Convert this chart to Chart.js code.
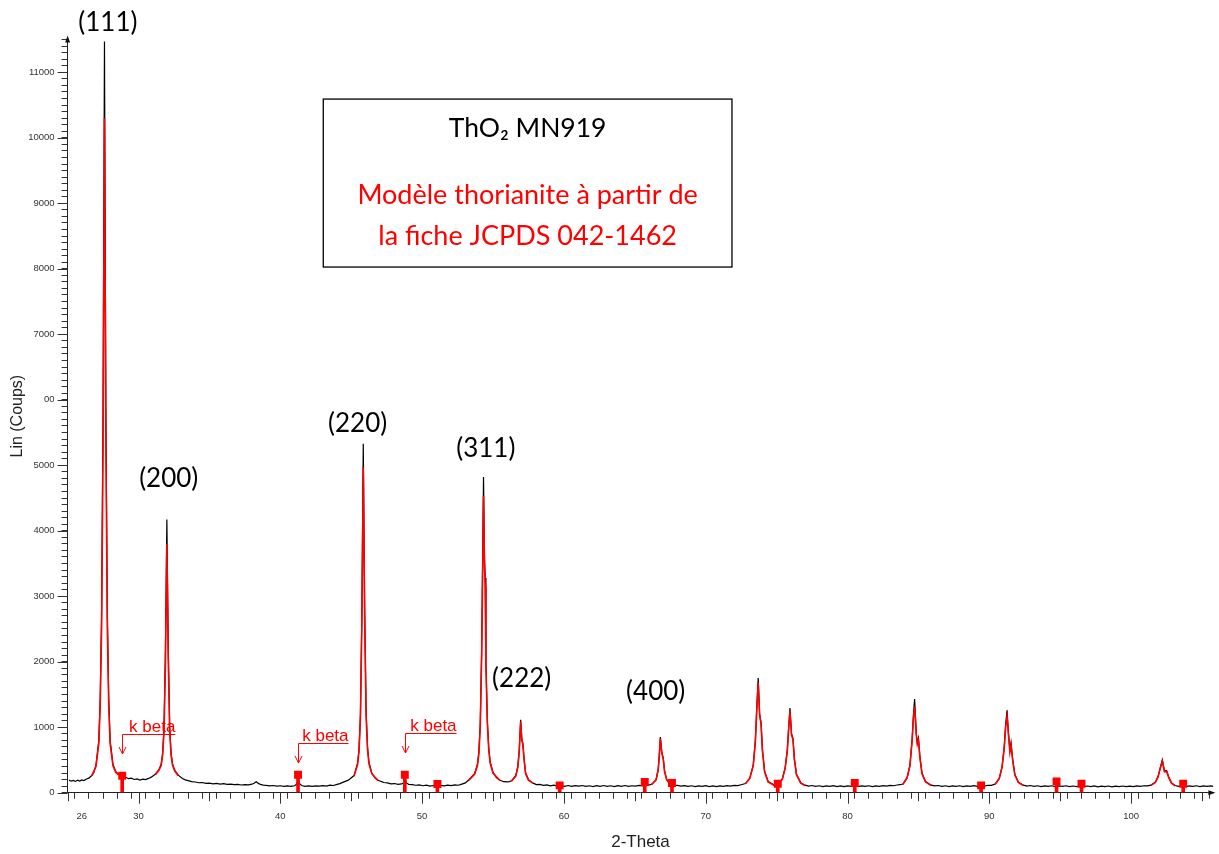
<!DOCTYPE html>
<html><head><meta charset="utf-8">
<script src="https://cdn.jsdelivr.net/npm/chart.js@4"></script>
<style>html,body{margin:0;padding:0;background:#fff;}canvas{display:block;}</style>
</head><body>
<canvas id="c" width="1219" height="854"></canvas>
<script>
// Observed XRD pattern (2-Theta, counts)
const observed = [
[25.1,192],[25.25,176],[25.4,188],[25.55,172],[25.7,190],[25.85,178],[26.0,194],[26.15,186],[26.3,206],[26.5,222],[26.7,262],[26.85,310],[27.0,420],[27.2,800],[27.3,1450],[27.4,2800],[27.5,5840],[27.6,11470],[27.7,5840],[27.8,2800],[27.9,1450],[28.0,800],[28.2,430],[28.4,320],[28.6,280],[28.75,258],[28.85,266],[28.95,245],
[29.1,236],[29.3,214],[29.5,222],[29.7,202],[29.9,210],[30.1,194],[30.3,206],[30.5,200],[30.7,218],[30.9,238],[31.2,285],[31.45,355],[31.6,440],[31.7,600],[31.8,1000],[31.9,2190],[32.0,4170],[32.1,2190],[32.2,1000],[32.3,600],[32.4,440],[32.55,345],[32.8,268],
[33.1,218],[33.3,196],[33.5,184],[33.75,170],[34.0,163],[34.25,152],[34.5,156],[34.75,143],[35.0,146],[35.25,136],[35.5,141],[35.75,131],[36.0,137],[36.25,126],[36.5,131],[36.75,122],[37.0,128],[37.25,118],[37.5,124],[37.75,119],[38.0,130],[38.15,145],[38.3,168],[38.45,142],[38.6,126],[38.8,116],[39.0,112],[39.25,104],[39.5,110],[39.75,100],[40.0,106],[40.25,97],[40.5,103],[40.75,96],[41.0,106],[41.15,130],[41.25,205],[41.35,140],[41.5,110],[41.75,98],[42.0,104],[42.25,96],[42.5,105],[42.75,99],[43.0,108],[43.25,102],[43.5,115],[43.75,110],[44.0,128],[44.2,138],[44.4,158],
[44.8,192],[45.2,262],[45.45,450],[45.55,670],[45.65,1190],[45.75,2740],[45.85,5330],[45.95,2800],[46.05,1250],[46.15,700],[46.25,470],[46.45,300],[46.7,220],[46.9,190],
[47.1,172],[47.3,156],[47.55,150],[47.8,136],[48.05,140],[48.3,126],[48.55,134],[48.7,150],[48.8,212],[48.9,150],[49.05,128],[49.3,124],[49.55,114],[49.8,118],[50.05,106],[50.3,114],[50.55,102],[50.8,110],[51.05,100],[51.3,112],[51.55,104],[51.8,116],[52.05,108],[52.3,120],[52.55,114],[52.8,132],[53.05,150],
[53.3,198],[53.7,290],[53.9,430],[54.0,620],[54.1,1050],[54.2,2200],[54.33,4820],[54.4,3600],[54.45,3280],[54.5,2000],[54.6,1100],[54.7,680],[54.8,470],[55.0,310],[55.25,228],[55.5,190],[55.75,168],[56.0,166],[56.15,170],
[56.3,182],[56.6,260],[56.75,400],[56.85,650],[56.95,1115],[57.03,820],[57.1,760],[57.2,500],[57.3,300],[57.5,200],[57.8,150],
[58.05,124],[58.3,128],[58.55,112],[58.8,118],[59.05,104],[59.3,114],[59.55,100],[59.8,112],[60.05,98],[60.3,110],[60.55,96],[60.8,108],[61.05,100],[61.3,110],[61.55,96],[61.8,106],[62.05,94],[62.3,108],[62.55,98],[62.8,110],[63.05,96],[63.3,106],[63.55,94],[63.8,108],[64.05,98],[64.3,110],[64.55,96],[64.8,106],[65.05,100],[65.3,112],[65.55,104],[65.8,118],[66.05,118],
[66.2,132],[66.5,200],[66.65,360],[66.72,560],[66.8,850],[66.9,620],[67.0,535],[67.1,330],[67.25,200],[67.5,130],
[67.75,112],[68.0,112],[68.25,100],[68.5,108],[68.75,96],[69.0,106],[69.25,94],[69.5,104],[69.75,96],[70.0,108],[70.25,94],[70.5,104],[70.75,92],[71.0,104],[71.25,96],[71.5,108],[71.75,100],[72.0,112],[72.25,108],[72.5,122],
[72.8,140],[73.1,220],[73.35,420],[73.5,800],[73.6,1300],[73.7,1750],[73.8,1200],[73.9,1073],[74.0,650],[74.15,330],[74.4,170],[74.8,120],[75.1,130],[75.4,210],[75.6,380],[75.75,650],[75.85,1000],[75.94,1293],[76.05,900],[76.15,835],[76.25,520],[76.4,280],[76.7,150],[77.0,115],
[77.25,102],[77.5,110],[77.75,96],[78.0,106],[78.25,94],[78.5,104],[78.75,96],[79.0,108],[79.25,94],[79.5,104],[79.75,92],[80.0,104],[80.25,96],[80.5,108],[80.75,94],[81.0,104],[81.25,96],[81.5,106],[81.75,94],[82.0,104],[82.25,98],[82.5,108],[82.75,100],[83.0,112],[83.25,106],[83.5,118],[83.7,122],
[83.9,132],[84.2,230],[84.4,420],[84.55,800],[84.65,1200],[84.73,1430],[84.85,900],[84.92,760],[85.0,835],[85.1,560],[85.25,300],[85.5,170],[85.9,115],
[86.15,104],[86.4,110],[86.65,96],[86.9,106],[87.15,94],[87.4,104],[87.65,96],[87.9,106],[88.15,92],[88.4,104],[88.65,96],[88.9,108],[89.15,98],[89.4,108],[89.65,102],[89.9,114],[90.15,112],
[90.4,132],[90.7,220],[90.9,400],[91.05,700],[91.15,1050],[91.25,1257],[91.35,900],[91.45,650],[91.53,768],[91.65,500],[91.8,280],[92.05,160],[92.4,115],
[92.65,102],[92.9,110],[93.15,96],[93.4,106],[93.65,94],[93.9,104],[94.15,96],[94.4,106],[94.65,92],[94.9,104],[95.15,96],[95.4,106],[95.65,92],[95.9,102],[96.15,94],[96.4,104],[96.65,92],[96.9,102],[97.15,94],[97.4,104],[97.65,90],[97.9,100],[98.15,92],[98.4,102],[98.65,90],[98.9,100],[99.15,92],[99.4,102],[99.65,92],[99.9,100],[100.15,94],[100.4,104],[100.65,96],[100.9,106],[101.15,104],
[101.4,116],[101.7,160],[101.9,250],[102.05,380],[102.2,504],[102.35,330],[102.5,340],[102.65,240],[102.85,150],[103.1,110],
[103.35,98],[103.6,106],[103.85,94],[104.1,104],[104.35,96],[104.6,106],[104.85,94],[105.1,104],[105.35,96],[105.6,104],[105.8,98]
];

// Thorianite model profile (red); null = gap between peaks
const calculated = [
[26.7,258],[27.0,400],[27.2,750],[27.3,1330],[27.4,2550],[27.5,5300],[27.6,10300],[27.7,5300],[27.8,2550],[27.9,1330],[28.0,750],[28.2,410],[28.4,310],[28.6,272],
[29.5,null],
[31.2,280],[31.45,345],[31.6,420],[31.7,570],[31.8,930],[31.9,2000],[32.0,3800],[32.1,2000],[32.2,930],[32.3,570],[32.4,420],[32.55,335],[32.8,260],
[40.0,null],
[45.2,255],[45.45,430],[45.55,630],[45.65,1120],[45.75,2560],[45.85,4970],[45.95,2620],[46.05,1170],[46.15,660],[46.25,445],[46.45,290],[46.9,185],
[50.0,null],
[53.3,192],[53.7,280],[53.9,410],[54.0,590],[54.1,1000],[54.2,2100],[54.33,4530],[54.4,3450],[54.45,3150],[54.5,1950],[54.6,1060],[54.7,650],[54.8,450],[55.0,300],[55.5,182],
[56.0,null],
[56.3,175],[56.6,250],[56.75,390],[56.85,630],[56.95,1090],[57.03,800],[57.1,740],[57.2,480],[57.3,290],[57.5,192],[57.8,145],
[62.0,null],
[66.2,126],[66.5,195],[66.65,350],[66.72,545],[66.8,830],[66.9,600],[67.0,520],[67.1,320],[67.25,195],[67.5,125],
[70.0,null],
[72.8,136],[73.1,215],[73.35,410],[73.5,780],[73.6,1260],[73.7,1680],[73.8,1180],[73.9,1050],[74.0,640],[74.15,320],[74.4,165],[74.8,115],[75.1,126],[75.4,205],[75.6,370],[75.75,630],[75.85,970],[75.94,1250],[76.05,880],[76.15,815],[76.25,510],[76.4,275],[76.7,145],[77.0,110],
[80.0,null],
[83.9,126],[84.2,225],[84.4,410],[84.55,780],[84.65,1150],[84.73,1320],[84.85,880],[84.92,740],[85.0,800],[85.1,540],[85.25,290],[85.5,165],[85.9,110],
[88.0,null],
[90.4,126],[90.7,215],[90.9,390],[91.05,680],[91.15,1000],[91.25,1165],[91.35,880],[91.45,620],[91.53,720],[91.65,480],[91.8,270],[92.05,155],[92.4,110],
[98.0,null],
[101.4,112],[101.7,155],[101.9,240],[102.05,370],[102.2,480],[102.35,320],[102.5,325],[102.65,230],[102.85,145],[103.1,105]
];

// Reference stick markers
const stickTheta  = [28.85, 41.25, 48.78, 51.08, 59.7, 65.7, 67.62, 75.08, 80.51, 89.42, 94.74, 96.5, 103.67];
const stickCounts = [260, 275, 275, 133, 112, 163, 148, 137, 148, 112, 173, 137, 137];

// Tick labels
const xTickLabelValues = [26, 30, 40, 50, 60, 70, 80, 90, 100];
const yTickLabels = ['0','1000','2000','3000','4000','5000','00','7000','8000','9000','10000','11000'];

// Peak labels (text, 2-Theta, counts of baseline)
const peakLabels = ['(111)','(200)','(220)','(311)','(222)','(400)'];
const peakLabelTheta = [27.84, 32.13, 45.45, 54.49, 57.02, 66.47];
const peakLabelCounts = [11631, 4672, 5512, 5130, 1619, 1415];

// k beta annotations
const kBetaTheta = [28.85, 41.25, 48.78];
const kBetaEndTheta = [32.60, 44.81, 52.43];
const kBetaLineCounts = [901, 764, 916];
const kBetaTipCounts = [591, 453, 606];

// Legend box (2-Theta range, counts range)
const boxTheta = [43.03, 71.85];
const boxCounts = [10592, 8027];
const boxTitle = 'ThO₂ MN919';
const boxLines = ['Modèle thorianite à partir de', 'la fiche JCPDS 042-1462'];

const ARIAL = '"Liberation Sans", Arial, sans-serif';
const CAL = 'Lato, "Open Sans", sans-serif';

const decor = {
  id: 'decor',
  afterDraw(chart) {
    const {ctx, chartArea: ca, scales: {x, y}} = chart;
    ctx.save();
    // longer major ticks
    ctx.strokeStyle = '#333'; ctx.lineWidth = 1;
    x.ticks.forEach(t => {
      if (t.value % 5 !== 0) return;
      const len = t.value % 10 === 0 ? 11 : 8.5;
      const px = Math.round(x.getPixelForValue(t.value)) + 0.5;
      ctx.beginPath(); ctx.moveTo(px, ca.bottom); ctx.lineTo(px, ca.bottom + len); ctx.stroke();
    });
    y.ticks.forEach(t => {
      if (t.value % 1000 !== 0) return;
      const py = Math.round(y.getPixelForValue(t.value)) + 0.5;
      ctx.beginPath(); ctx.moveTo(ca.left, py); ctx.lineTo(ca.left - 10, py); ctx.stroke();
    });
    // axis arrows
    ctx.fillStyle = '#111';
    ctx.beginPath(); ctx.moveTo(ca.left, ca.top - 4); ctx.lineTo(ca.left - 2.5, ca.top + 3); ctx.lineTo(ca.left + 2.5, ca.top + 3); ctx.closePath(); ctx.fill();
    ctx.beginPath(); ctx.moveTo(ca.right + 2, ca.bottom); ctx.lineTo(ca.right - 5, ca.bottom - 2.5); ctx.lineTo(ca.right - 5, ca.bottom + 2.5); ctx.closePath(); ctx.fill();

    // peak labels
    ctx.fillStyle = '#000'; ctx.font = '26px ' + CAL; ctx.textAlign = 'center'; ctx.textBaseline = 'alphabetic';
    peakLabels.forEach((s, i) => ctx.fillText(s, x.getPixelForValue(peakLabelTheta[i]), y.getPixelForValue(peakLabelCounts[i])));

    // k beta annotations
    ctx.strokeStyle = '#ff0000'; ctx.fillStyle = '#ff0000'; ctx.lineWidth = 1;
    ctx.font = '17px ' + ARIAL; ctx.textAlign = 'right';
    kBetaTheta.forEach((t, i) => {
      const ax = Math.round(x.getPixelForValue(t)) + 0.5;
      const ly = Math.round(y.getPixelForValue(kBetaLineCounts[i])) + 0.5;
      const tip = y.getPixelForValue(kBetaTipCounts[i]);
      const ex = x.getPixelForValue(kBetaEndTheta[i]);
      ctx.beginPath(); ctx.moveTo(ex, ly); ctx.lineTo(ax, ly); ctx.lineTo(ax, tip); ctx.stroke();
      ctx.beginPath(); ctx.moveTo(ax - 3.5, tip - 7); ctx.lineTo(ax, tip); ctx.lineTo(ax + 3.5, tip - 7); ctx.stroke();
      ctx.fillText('k beta', ex, ly - 3);
    });

    // legend box
    const bx0 = x.getPixelForValue(boxTheta[0]), bx1 = x.getPixelForValue(boxTheta[1]);
    const by0 = y.getPixelForValue(boxCounts[0]), by1 = y.getPixelForValue(boxCounts[1]);
    ctx.strokeStyle = '#000'; ctx.lineWidth = 1.3;
    ctx.strokeRect(bx0, by0, bx1 - bx0, by1 - by0);
    const cx = (bx0 + bx1) / 2;
    ctx.textAlign = 'center';
    ctx.fillStyle = '#000'; ctx.font = '26.5px ' + CAL;
    ctx.fillText(boxTitle, cx, by0 + 38);
    ctx.fillStyle = '#ff0000'; ctx.font = '27px ' + CAL;
    ctx.fillText(boxLines[0], cx, by0 + 105);
    ctx.fillText(boxLines[1], cx, by0 + 146);
    ctx.restore();
  }
};

new Chart(document.getElementById('c'), {
  type: 'line',
  data: {
    datasets: [
      { label: 'markers', type: 'line', data: stickTheta.map((t, i) => ({x: t, y: stickCounts[i]})),
        showLine: false, pointStyle: 'rect', pointRadius: 5.6, pointBackgroundColor: '#ff0000',
        pointBorderWidth: 0, pointBorderColor: '#ff0000', order: 0 },
      { label: 'sticks', type: 'bar', data: stickTheta.map((t, i) => ({x: t, y: stickCounts[i]})),
        backgroundColor: '#ff0000', barThickness: 3, order: 1 },
      { label: 'model', data: calculated.map(p => ({x: p[0], y: p[1]})), borderColor: '#ff0000',
        borderWidth: 1.6, pointRadius: 0, tension: 0, spanGaps: false, order: 2 },
      { label: 'observed', data: observed.map(p => ({x: p[0], y: p[1]})), borderColor: '#000',
        borderWidth: 1.2, pointRadius: 0, tension: 0, order: 3 }
    ]
  },
  options: {
    responsive: false, animation: false, events: [],
    layout: { padding: { top: 39.6, right: 2.3, left: 0, bottom: 0 } },
    plugins: { legend: { display: false }, tooltip: { enabled: false } },
    scales: {
      x: {
        type: 'linear', min: 25, max: 105.8, offset: false,
        border: { display: true, color: '#222', width: 1 },
        grid: { display: true, drawOnChartArea: false, drawTicks: true, tickLength: 6, tickColor: '#333', tickWidth: 1 },
        ticks: { stepSize: 1, autoSkip: false, maxRotation: 0, minRotation: 0, includeBounds: false, maxTicksLimit: 200,
          padding: 12, color: '#333', font: { family: ARIAL, size: 9.5 },
          callback: v => xTickLabelValues.includes(v) ? String(v) : '' },
        title: { display: true, text: '2-Theta', color: '#222', font: { family: ARIAL, size: 17 }, padding: { top: 0, bottom: 1 } },
        afterFit(s) { s.height = 61.3; s.paddingLeft = 0; s.paddingRight = 0; }
      },
      y: {
        type: 'linear', min: 0, max: 11500,
        border: { display: true, color: '#222', width: 1 },
        grid: { display: true, drawOnChartArea: false, drawTicks: true, tickLength: 6, tickColor: '#333', tickWidth: 1 },
        ticks: { stepSize: 100, autoSkip: false, includeBounds: false, maxTicksLimit: 200,
          padding: 7, color: '#333', font: { family: ARIAL, size: 9.5 },
          callback: v => v % 1000 === 0 ? yTickLabels[v / 1000] : '' },
        title: { display: true, text: 'Lin (Coups)', color: '#222', font: { family: ARIAL, size: 16 }, padding: { top: 8, bottom: 0 } },
        afterFit(s) { s.width = 67.6; s.paddingTop = 0; s.paddingBottom = 0; }
      }
    }
  },
  plugins: [decor]
});
</script>
</body></html>
